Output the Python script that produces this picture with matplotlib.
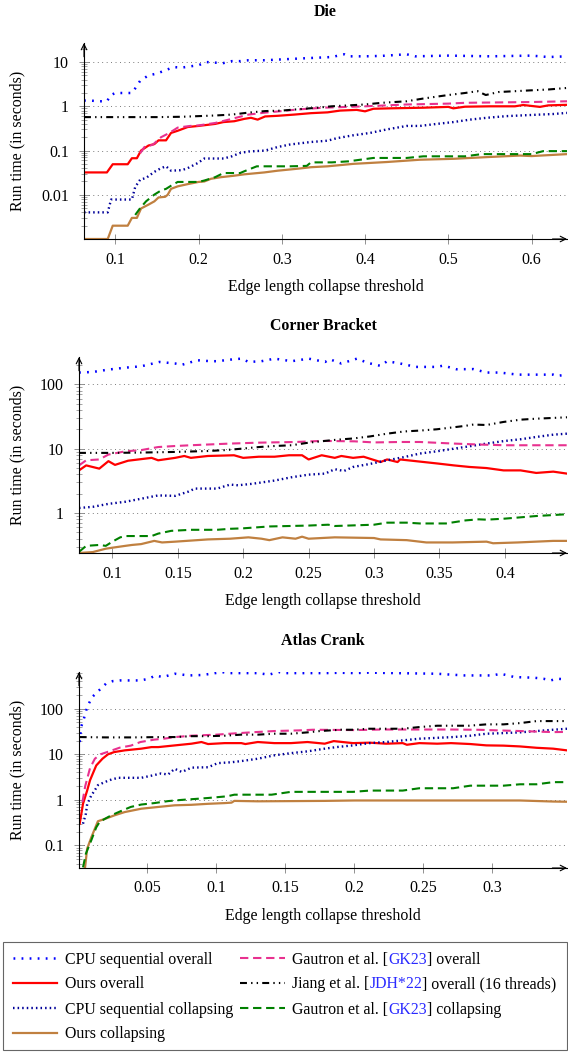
import numpy as np
import matplotlib.pyplot as plt
from matplotlib.patches import Rectangle
from matplotlib.ticker import FixedLocator, FixedFormatter, LogLocator, NullFormatter

plt.rcParams['font.family'] = ['Liberation Serif', 'DejaVu Serif']
plt.rcParams['lines.scale_dashes'] = False
FS = 11.4

# ---- Die ----
DIE_CPU_OVERALL = [(0.0625, 1.35), (0.07, 1.35), (0.08, 1.3), (0.09, 1.3), (0.095, 1.8), (0.1, 2.0), (0.11, 2.0),
                   (0.12, 2.0), (0.125, 2.7), (0.13, 3.8), (0.14, 5.0), (0.15, 5.5), (0.16, 6.5), (0.17, 7.7),
                   (0.18, 7.5), (0.19, 8.0), (0.2, 8.5), (0.21, 10.0), (0.22, 9.7), (0.23, 9.5), (0.24, 10.5),
                   (0.25, 10.5), (0.26, 11.0), (0.28, 11.0), (0.3, 11.5), (0.32, 12.0), (0.34, 12.5), (0.36, 13.0),
                   (0.375, 15.0), (0.38, 13.5), (0.4, 13.5), (0.42, 13.8), (0.45, 15.0), (0.46, 13.5), (0.5, 14.0),
                   (0.55, 13.5), (0.6, 14.0), (0.62, 13.0), (0.6425, 13.5)]
DIE_OURS_OVERALL = [(0.0625, 0.032), (0.09, 0.032), (0.097, 0.049), (0.115, 0.049), (0.12, 0.067), (0.126, 0.067),
                    (0.131, 0.10), (0.14, 0.13), (0.147, 0.14), (0.152, 0.17), (0.161, 0.17), (0.167, 0.25),
                    (0.175, 0.28), (0.187, 0.34), (0.2, 0.36), (0.22, 0.40), (0.23, 0.44), (0.243, 0.46),
                    (0.255, 0.52), (0.263, 0.55), (0.271, 0.50), (0.28, 0.59), (0.295, 0.61), (0.315, 0.65),
                    (0.335, 0.70), (0.355, 0.73), (0.37, 0.80), (0.39, 0.83), (0.4, 0.77), (0.41, 0.88),
                    (0.43, 0.90), (0.47, 0.93), (0.5, 0.97), (0.506, 0.90), (0.52, 0.98), (0.55, 1.0), (0.58, 1.0),
                    (0.59, 1.07), (0.61, 0.97), (0.62, 1.05), (0.6425, 1.08)]
DIE_CPU_COLLAPSE = [(0.0625, 0.004), (0.091, 0.004), (0.095, 0.0078), (0.12, 0.0078), (0.124, 0.015), (0.13, 0.022),
                    (0.137, 0.024), (0.147, 0.033), (0.155, 0.040), (0.161, 0.044), (0.167, 0.035), (0.18, 0.036),
                    (0.187, 0.04), (0.199, 0.052), (0.207, 0.066), (0.23, 0.066), (0.24, 0.074), (0.25, 0.088),
                    (0.26, 0.095), (0.28, 0.10), (0.295, 0.12), (0.31, 0.137), (0.335, 0.156), (0.355, 0.167),
                    (0.366, 0.19), (0.385, 0.22), (0.406, 0.25), (0.426, 0.30), (0.45, 0.36), (0.466, 0.36),
                    (0.486, 0.40), (0.506, 0.44), (0.526, 0.50), (0.546, 0.55), (0.57, 0.60), (0.594, 0.63),
                    (0.626, 0.67), (0.6425, 0.71)]
DIE_OURS_COLLAPSE = [(0.0625, 0.001), (0.091, 0.001), (0.097, 0.002), (0.115, 0.002), (0.12, 0.003), (0.126, 0.003),
                     (0.131, 0.0049), (0.14, 0.0060), (0.147, 0.0071), (0.152, 0.0087), (0.16, 0.0090),
                     (0.163, 0.0100), (0.167, 0.0136), (0.175, 0.0155), (0.187, 0.0174), (0.2, 0.0195),
                     (0.207, 0.020), (0.215, 0.023), (0.227, 0.025), (0.243, 0.027), (0.255, 0.029), (0.279, 0.032),
                     (0.295, 0.035), (0.32, 0.039), (0.335, 0.042), (0.355, 0.044), (0.386, 0.05), (0.426, 0.055),
                     (0.466, 0.062), (0.506, 0.065), (0.546, 0.071), (0.586, 0.077), (0.60, 0.075), (0.6425, 0.083)]
DIE_GK_OVERALL = [(0.13, 0.087), (0.135, 0.12), (0.145, 0.135), (0.155, 0.20), (0.165, 0.25), (0.175, 0.33),
                  (0.19, 0.36), (0.2, 0.37), (0.22, 0.42), (0.24, 0.52), (0.26, 0.65), (0.28, 0.72), (0.3, 0.78),
                  (0.32, 0.85), (0.35, 0.93), (0.4, 1.0), (0.45, 1.1), (0.5, 1.15), (0.52, 1.2), (0.6, 1.25),
                  (0.6425, 1.3)]
DIE_JIANG = [(0.0625, 0.57), (0.1, 0.57), (0.15, 0.57), (0.18, 0.58), (0.2, 0.6), (0.22, 0.62), (0.24, 0.65),
             (0.26, 0.72), (0.28, 0.78), (0.3, 0.8), (0.32, 0.86), (0.34, 0.92), (0.36, 1.0), (0.38, 1.05),
             (0.4, 1.1), (0.42, 1.2), (0.45, 1.3), (0.47, 1.5), (0.5, 1.8), (0.52, 2.0), (0.535, 2.2),
             (0.545, 1.8), (0.56, 2.1), (0.6, 2.3), (0.62, 2.4), (0.6425, 2.6)]
DIE_GK_COLLAPSE = [(0.124, 0.0035), (0.13, 0.005), (0.137, 0.0071), (0.147, 0.0101), (0.155, 0.0125),
                   (0.161, 0.0136), (0.167, 0.016), (0.175, 0.0195), (0.2, 0.0195), (0.207, 0.021), (0.22, 0.025),
                   (0.23, 0.031), (0.25, 0.031), (0.255, 0.034), (0.27, 0.044), (0.31, 0.044), (0.33, 0.045),
                   (0.335, 0.054), (0.36, 0.054), (0.38, 0.057), (0.41, 0.068), (0.45, 0.068), (0.47, 0.074),
                   (0.52, 0.074), (0.54, 0.083), (0.6, 0.083), (0.614, 0.097), (0.6425, 0.097)]

# ---- Corner Bracket ----
CB_CPU_OVERALL = [(0.0745, 152), (0.085, 155), (0.097, 169), (0.11, 181), (0.122, 190), (0.136, 222), (0.148, 210),
                  (0.153, 200), (0.165, 236), (0.175, 228), (0.18, 228), (0.193, 245), (0.199, 250), (0.204, 222),
                  (0.214, 228), (0.224, 250), (0.237, 228), (0.25, 250), (0.2626, 222), (0.266, 245), (0.275, 210),
                  (0.287, 250), (0.295, 215), (0.305, 193), (0.31, 228), (0.32, 210), (0.332, 186), (0.348, 186),
                  (0.353, 195), (0.363, 171), (0.376, 172), (0.386, 152), (0.396, 152), (0.41, 141), (0.437, 141),
                  (0.44, 135), (0.4475, 141)]
CB_OURS_OVERALL = [(0.0745, 4.6), (0.08, 5.5), (0.09, 4.9), (0.097, 6.4), (0.102, 5.6), (0.112, 6.5), (0.13, 7.2),
                   (0.135, 6.6), (0.148, 7.2), (0.155, 7.7), (0.16, 7.2), (0.173, 7.7), (0.193, 7.9), (0.2, 7.2),
                   (0.212, 7.5), (0.224, 7.5), (0.235, 7.9), (0.245, 7.9), (0.25, 6.8), (0.26, 7.9), (0.27, 7.2),
                   (0.275, 7.7), (0.284, 7.2), (0.292, 7.5), (0.305, 6.2), (0.31, 6.8), (0.318, 6.2), (0.32, 6.8),
                   (0.335, 6.3), (0.348, 5.9), (0.361, 5.5), (0.373, 5.2), (0.386, 5.0), (0.399, 4.6),
                   (0.412, 4.6), (0.424, 4.2), (0.437, 4.4), (0.4475, 4.1)]
CB_CPU_COLLAPSE = [(0.0745, 1.2), (0.085, 1.25), (0.097, 1.39), (0.11, 1.5), (0.122, 1.67), (0.135, 1.88),
                   (0.148, 1.85), (0.158, 2.15), (0.163, 2.4), (0.18, 2.4), (0.19, 2.77), (0.196, 2.7),
                   (0.207, 2.85), (0.224, 3.2), (0.237, 3.6), (0.25, 3.95), (0.2626, 4.1), (0.27, 4.8),
                   (0.277, 4.5), (0.284, 5.2), (0.297, 5.8), (0.31, 6.6), (0.323, 7.4), (0.335, 8.4), (0.348, 9.1),
                   (0.361, 10.0), (0.373, 10.9), (0.386, 12.0), (0.399, 13.1), (0.412, 14.0), (0.424, 15.2),
                   (0.437, 16.5), (0.4475, 17.1)]
CB_OURS_COLLAPSE = [(0.0745, 0.24), (0.085, 0.248), (0.095, 0.28), (0.1, 0.29), (0.11, 0.31), (0.115, 0.32),
                    (0.122, 0.33), (0.132, 0.37), (0.138, 0.35), (0.148, 0.36), (0.173, 0.39), (0.19, 0.40),
                    (0.204, 0.42), (0.214, 0.40), (0.22, 0.38), (0.23, 0.42), (0.24, 0.40), (0.245, 0.43),
                    (0.25, 0.40), (0.26, 0.41), (0.27, 0.42), (0.3, 0.41), (0.305, 0.39), (0.325, 0.38),
                    (0.34, 0.35), (0.36, 0.35), (0.386, 0.36), (0.391, 0.34), (0.41, 0.35), (0.437, 0.37),
                    (0.4475, 0.37)]
CB_GK_OVERALL = [(0.0745, 5.5), (0.08, 6.6), (0.09, 6.8), (0.097, 8.1), (0.11, 9.1), (0.122, 9.5), (0.135, 10.6),
                 (0.148, 11.0), (0.16, 11.3), (0.173, 11.6), (0.19, 12.0), (0.212, 12.4), (0.24, 12.7),
                 (0.26, 13.2), (0.285, 13.0), (0.3, 12.5), (0.32, 12.7), (0.335, 12.7), (0.361, 12.0),
                 (0.38, 11.6), (0.4, 11.3), (0.4475, 11.3)]
CB_JIANG = [(0.0745, 8.6), (0.1, 8.6), (0.122, 8.7), (0.148, 8.9), (0.173, 9.2), (0.186, 9.5), (0.199, 10.0),
            (0.212, 10.6), (0.224, 11.0), (0.237, 11.3), (0.25, 12.4), (0.2626, 13.2), (0.272, 13.8),
            (0.284, 14.4), (0.297, 15.5), (0.31, 17.1), (0.323, 18.5), (0.335, 19.1), (0.348, 20.0),
            (0.361, 21.5), (0.369, 22.5), (0.376, 23.7), (0.386, 23.3), (0.399, 26.0), (0.412, 28.2),
            (0.424, 29.2), (0.4475, 30.7)]
CB_GK_COLLAPSE = [(0.0745, 0.25), (0.08, 0.31), (0.09, 0.32), (0.095, 0.31), (0.1, 0.36), (0.106, 0.42),
                  (0.11, 0.44), (0.13, 0.44), (0.135, 0.48), (0.145, 0.53), (0.16, 0.55), (0.18, 0.55),
                  (0.19, 0.57), (0.2, 0.58), (0.22, 0.62), (0.25, 0.64), (0.265, 0.66), (0.27, 0.63), (0.3, 0.66),
                  (0.31, 0.71), (0.325, 0.71), (0.335, 0.69), (0.355, 0.69), (0.37, 0.77), (0.38, 0.80),
                  (0.386, 0.79), (0.4, 0.82), (0.424, 0.90), (0.4475, 0.96)]

# ---- Atlas Crank ----
AC_CPU_OVERALL = [(0.001, 18.6), (0.002, 39.6), (0.004, 60), (0.0064, 109), (0.01, 180), (0.0155, 261), (0.02, 354),
                  (0.025, 404), (0.03, 418), (0.045, 418), (0.051, 455), (0.056, 538), (0.061, 495), (0.07, 586),
                  (0.08, 538), (0.09, 550), (0.104, 636), (0.11, 605), (0.13, 605), (0.138, 560), (0.145, 636),
                  (0.15, 605), (0.1785, 605), (0.19, 616), (0.2, 605), (0.21, 620), (0.23, 605), (0.26, 586),
                  (0.27, 560), (0.28, 538), (0.3, 538), (0.306, 586), (0.316, 495), (0.33, 480), (0.337, 455),
                  (0.342, 418), (0.347, 455), (0.354, 440)]
AC_OURS_OVERALL = [(0.001, 0.30), (0.0034, 0.82), (0.0064, 1.6), (0.0085, 2.7), (0.011, 4.1), (0.013, 5.7),
                   (0.0175, 8.0), (0.0215, 10.0), (0.026, 11.2), (0.0336, 12.2), (0.0456, 13.3), (0.053, 14.4),
                   (0.058, 14.4), (0.07, 15.7), (0.082, 17.1), (0.0892, 18.6), (0.094, 16.8), (0.106, 17.6),
                   (0.1181, 17.6), (0.121, 16.8), (0.13, 18.6), (0.142, 17.6), (0.154, 17.6), (0.166, 18.6),
                   (0.1785, 17.1), (0.185, 19.5), (0.199, 17.6), (0.211, 18.0), (0.223, 17.1), (0.235, 17.6),
                   (0.238, 16.2), (0.247, 17.6), (0.26, 17.1), (0.27, 17.6), (0.284, 16.8), (0.2956, 15.7),
                   (0.308, 15.5), (0.3198, 14.9), (0.332, 13.9), (0.344, 13.3), (0.354, 12.2)]
AC_CPU_COLLAPSE = [(0.0034, 0.30), (0.0055, 0.50), (0.0064, 0.8), (0.0094, 1.25), (0.0118, 1.6), (0.0142, 2.1),
                   (0.019, 2.45), (0.024, 2.8), (0.029, 3.05), (0.0456, 3.05), (0.053, 3.4), (0.06, 3.8),
                   (0.065, 3.6), (0.0698, 4.8), (0.075, 4.1), (0.082, 5.1), (0.094, 5.2), (0.101, 6.4),
                   (0.111, 6.7), (0.118, 7.1), (0.13, 8.0), (0.142, 9.5), (0.154, 10.6), (0.166, 11.6),
                   (0.1785, 13.3), (0.187, 14.4), (0.199, 15.7), (0.211, 17.6), (0.223, 18.6), (0.235, 20.2),
                   (0.247, 22.0), (0.26, 23.0), (0.2715, 23.9), (0.284, 25.6), (0.2956, 28.3), (0.308, 29.2),
                   (0.3198, 30.3), (0.332, 32.4), (0.344, 34.6), (0.354, 36.4)]
AC_OURS_COLLAPSE = [(0.0049, 0.033), (0.0064, 0.085), (0.0094, 0.15), (0.0142, 0.34), (0.019, 0.38),
                    (0.0264, 0.46), (0.0336, 0.54), (0.0456, 0.64), (0.058, 0.70), (0.0698, 0.76), (0.082, 0.78),
                    (0.094, 0.82), (0.106, 0.85), (0.111, 0.87), (0.113, 0.95), (0.13, 0.93), (0.1785, 0.95),
                    (0.2, 0.97), (0.3198, 0.97), (0.344, 0.92), (0.354, 0.91)]
AC_GK_OVERALL = [(0.003, 0.9), (0.005, 2.0), (0.0085, 5.0), (0.012, 8.0), (0.016, 10.0), (0.022, 11.5),
                 (0.03, 14.0), (0.038, 15.5), (0.045, 18.6), (0.055, 21.0), (0.062, 22.0), (0.07, 23.9),
                 (0.082, 25.6), (0.1, 27.0), (0.115, 29.0), (0.128, 30.7), (0.142, 32.4), (0.16, 33.5),
                 (0.17, 34.6), (0.2, 34.0), (0.22, 35.0), (0.27, 35.0), (0.29, 34.5), (0.32, 32.4), (0.344, 30.7),
                 (0.354, 31.0)]
AC_JIANG = [(0.001, 23.9), (0.02, 23.5), (0.04, 23.5), (0.06, 23.9), (0.07, 23.9), (0.082, 25.0), (0.094, 25.0),
            (0.106, 25.6), (0.118, 27.0), (0.13, 27.0), (0.142, 28.3), (0.154, 28.3), (0.166, 30.3),
            (0.175, 32.4), (0.19, 34.6), (0.2, 34.6), (0.21, 36.4), (0.235, 36.4), (0.247, 39.6), (0.26, 42.4),
            (0.283, 42.4), (0.2956, 45.4), (0.308, 45.4), (0.32, 48.4), (0.332, 53.6), (0.354, 53.6)]
AC_GK_COLLAPSE = [(0.0034, 0.033), (0.0055, 0.066), (0.0094, 0.13), (0.013, 0.25), (0.0155, 0.33), (0.019, 0.38),
                  (0.024, 0.46), (0.031, 0.57), (0.038, 0.70), (0.0456, 0.79), (0.055, 0.85), (0.065, 0.94),
                  (0.075, 1.0), (0.085, 1.05), (0.094, 1.1), (0.108, 1.2), (0.113, 1.3), (0.14, 1.3),
                  (0.154, 1.5), (0.199, 1.5), (0.211, 1.6), (0.235, 1.6), (0.247, 1.8), (0.2715, 1.8),
                  (0.284, 2.05), (0.308, 2.05), (0.32, 2.2), (0.332, 2.2), (0.344, 2.45), (0.354, 2.45)]

# legend order and styles
ORDER = ['cpu_overall', 'ours_overall', 'cpu_collapse', 'ours_collapse', 'gk_overall', 'jiang', 'gk_collapse']
STYLES = {
    'cpu_overall': dict(color='#0000ff', lw=1.8, dashes=(1.3, 4.5)),
    'ours_overall': dict(color='#ff0000', lw=1.6),
    'cpu_collapse': dict(color='#000099', lw=1.7, dashes=(1.1, 2.2)),
    'ours_collapse': dict(color='#c08040', lw=1.6),
    'gk_overall': dict(color='#e8318f', lw=1.5, dashes=(6.0, 3.4)),
    'jiang': dict(color='black', lw=1.5, dashes=(5.0, 3.0, 1.0, 3.0, 1.0, 3.0)),
    'gk_collapse': dict(color='#008000', lw=1.5, dashes=(6.0, 3.4)),
}

W, H = 568, 1052
fig = plt.figure(figsize=(W / 100, H / 100), dpi=100)


def px_rect(left, top, right, bottom):
    return [left / W, 1 - bottom / H, (right - left) / W, (bottom - top) / H]


def draw_panel(rect_px, title, series, xlim, ylim, xticks, xlabels, yticks, ylabels):
    left, top, right, bottom = rect_px
    ax = fig.add_axes(px_rect(*rect_px))
    for key in ORDER:
        xs, ys = zip(*series[key])
        ax.plot(xs, ys, **STYLES[key])
    ax.set_yscale('log')
    ax.set_xlim(*xlim)
    ax.set_ylim(*ylim)
    ax.xaxis.set_major_locator(FixedLocator(xticks))
    ax.xaxis.set_major_formatter(FixedFormatter(xlabels))
    ax.yaxis.set_major_locator(FixedLocator(yticks))
    ax.yaxis.set_major_formatter(FixedFormatter(ylabels))
    ax.yaxis.set_minor_locator(LogLocator(base=10, subs=np.arange(2, 10)))
    ax.yaxis.set_minor_formatter(NullFormatter())
    ax.tick_params(which='major', direction='inout', length=7, width=0.6, color='0.5', labelsize=FS)
    ax.tick_params(axis='x', which='major', pad=5.5)
    ax.tick_params(axis='y', which='major', pad=7.3)
    ax.tick_params(axis='y', which='minor', direction='inout', length=5, width=0.5, color='0.5')
    ax.grid(axis='y', which='major', color='0.3', linewidth=0.6, linestyle=(0, (0.6, 2.6)))
    ax.set_axisbelow(True)
    for s in ('top', 'right'):
        ax.spines[s].set_visible(False)
    for s in ('left', 'bottom'):
        ax.spines[s].set_linewidth(0.8)
    arrow = dict(arrowstyle='->', lw=0.8, color='k', shrinkA=0, shrinkB=0)
    ax.annotate('', xy=(1.0, 0), xytext=(0.97, 0), xycoords='axes fraction', arrowprops=arrow)
    ax.annotate('', xy=(0, 1.0), xytext=(0, 0.93), xycoords='axes fraction', arrowprops=arrow)

    h = bottom - top
    w = right - left
    ax.text(0.5, 1 + 31 / h, title, transform=ax.transAxes, ha='center', va='center',
            fontsize=FS, fontweight='bold')
    ax.set_xlabel('Edge length collapse threshold', fontsize=FS)
    ax.xaxis.label.set_va('center')
    ax.xaxis.set_label_coords(0.5, -48 / h)
    ax.set_ylabel('Run time (in seconds)', fontsize=FS)
    ax.yaxis.label.set_va('center')
    ax.yaxis.set_label_coords((17 - left) / w, 0.5)
    return ax


draw_panel((84, 43, 567, 239), 'Die',
           {'cpu_overall': DIE_CPU_OVERALL, 'ours_overall': DIE_OURS_OVERALL, 'cpu_collapse': DIE_CPU_COLLAPSE,
            'ours_collapse': DIE_OURS_COLLAPSE, 'gk_overall': DIE_GK_OVERALL, 'jiang': DIE_JIANG,
            'gk_collapse': DIE_GK_COLLAPSE},
           (0.0625, 0.6425), (0.001, 27),
           [0.1, 0.2, 0.3, 0.4, 0.5, 0.6], ['0.1', '0.2', '0.3', '0.4', '0.5', '0.6'],
           [0.01, 0.1, 1, 10], ['0.01', '0.1', '1', '10'])

draw_panel((79, 357, 567, 553), 'Corner Bracket',
           {'cpu_overall': CB_CPU_OVERALL, 'ours_overall': CB_OURS_OVERALL, 'cpu_collapse': CB_CPU_COLLAPSE,
            'ours_collapse': CB_OURS_COLLAPSE, 'gk_overall': CB_GK_OVERALL, 'jiang': CB_JIANG,
            'gk_collapse': CB_GK_COLLAPSE},
           (0.0745, 0.4475), (0.24, 265),
           [0.1, 0.15, 0.2, 0.25, 0.3, 0.35, 0.4], ['0.1', '0.15', '0.2', '0.25', '0.3', '0.35', '0.4'],
           [1, 10, 100], ['1', '10', '100'])

draw_panel((79, 672, 567, 868), 'Atlas Crank',
           {'cpu_overall': AC_CPU_OVERALL, 'ours_overall': AC_OURS_OVERALL, 'cpu_collapse': AC_CPU_COLLAPSE,
            'ours_collapse': AC_OURS_COLLAPSE, 'gk_overall': AC_GK_OVERALL, 'jiang': AC_JIANG,
            'gk_collapse': AC_GK_COLLAPSE},
           (0.0005, 0.354), (0.032, 640),
           [0.05, 0.1, 0.15, 0.2, 0.25, 0.3], ['0.05', '0.1', '0.15', '0.2', '0.25', '0.3'],
           [0.1, 1, 10, 100], ['0.1', '1', '10', '100'])

# ---- legend (drawn by hand so the citation keys can be coloured) ----
LEGEND_TEXT = {
    'cpu_overall': ['CPU sequential overall'],
    'ours_overall': ['Ours overall'],
    'cpu_collapse': ['CPU sequential collapsing'],
    'ours_collapse': ['Ours collapsing'],
    'gk_overall': ['Gautron et al. [', 'GK23', '] overall'],
    'jiang': ['Jiang et al. [', 'JDH*22', '] overall (16 threads)'],
    'gk_collapse': ['Gautron et al. [', 'GK23', '] collapsing'],
}
REF_COLOR = '#2a2aff'

lax = fig.add_axes([0, 0, 1, 1])
lax.set_xlim(0, W)
lax.set_ylim(H, 0)
lax.axis('off')
lax.add_patch(Rectangle((3, 942), 564, 108, fill=False, ec='0.4', lw=0.8))
rows = [958, 983, 1008, 1033]
cols = [(13, 57, 65), (240, 285, 292)]
for i, key in enumerate(ORDER):
    c = 0 if i < 4 else 1
    y = rows[i if i < 4 else i - 4]
    x0, x1, xt = cols[c]
    lax.plot([x0, x1], [y, y], **STYLES[key])
    parts = LEGEND_TEXT[key]
    t = lax.text(xt, y + 5.5, parts[0], fontsize=FS, va='baseline', ha='left')
    for j, p in enumerate(parts[1:]):
        t = lax.annotate(p, xy=(1, 0), xycoords=t, va='bottom', ha='left', fontsize=FS,
                         color=REF_COLOR if j == 0 else 'black')

fig.savefig('out.png', dpi=100)
